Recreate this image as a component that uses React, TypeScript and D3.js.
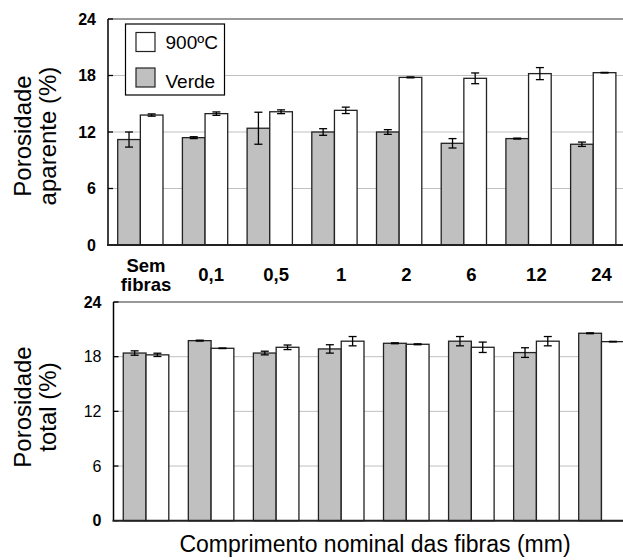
import React from "react";
import * as d3 from "d3";

const categories = ["Sem fibras", "0,1", "0,5", "1", "2", "6", "12", "24"];
const series = ["Verde", "900ºC"];
const yTicks = [0, 6, 12, 18, 24];

// porosidade aparente (%)
const aparenteVerde = [11.2, 11.4, 12.4, 12.0, 12.0, 10.8, 11.3, 10.7];
const aparenteVerdeErr = [0.8, 0.1, 1.7, 0.35, 0.25, 0.5, 0.05, 0.23];
const aparente900 = [13.8, 13.95, 14.15, 14.3, 17.8, 17.7, 18.2, 18.3];
const aparente900Err = [0.12, 0.18, 0.2, 0.34, 0.05, 0.57, 0.64, 0.03];

// porosidade total (%)
const totalVerde = [18.4, 19.76, 18.4, 18.85, 19.47, 19.7, 18.45, 20.57];
const totalVerdeErr = [0.24, 0.05, 0.2, 0.46, 0.05, 0.51, 0.53, 0.05];
const total900 = [18.2, 18.92, 19.03, 19.7, 19.36, 19.03, 19.7, 19.65];
const total900Err = [0.18, 0.03, 0.25, 0.51, 0.05, 0.57, 0.51, 0.03];

const W = 623;
const H = 560;
const FONT = "Arial, 'Liberation Sans', sans-serif";
const fills: Record<string, string> = { Verde: "#c0c0c0", "900ºC": "#ffffff" };

type PanelProps = {
  left: number;
  right: number;
  top: number;
  bottom: number;
  verde: number[];
  verdeErr: number[];
  queimado: number[];
  queimadoErr: number[];
  title: string[];
  titleY: number;
  boldTicks: boolean;
};

const Panel = (p: PanelProps) => {
  const x = d3.scaleBand(categories, [p.left, p.right]).paddingInner(0.3).paddingOuter(0.15);
  const xs = d3.scaleBand(series, [0, x.bandwidth()]);
  const y = d3.scaleLinear([0, 24], [p.bottom, p.top]);
  const axisX = p.left;

  const rows = categories.flatMap((c, i) => [
    { c, s: "Verde", v: p.verde[i], e: p.verdeErr[i] },
    { c, s: "900ºC", v: p.queimado[i], e: p.queimadoErr[i] },
  ]);

  return (
    <g>
      {yTicks.filter((t) => t > 0 && t < 24).map((t) => (
        <line key={"g" + t} x1={axisX} x2={W} y1={y(t)} y2={y(t)} stroke="#c0c0c0" strokeWidth={1} />
      ))}
      <line x1={axisX} x2={W} y1={y(24)} y2={y(24)} stroke="#999" strokeWidth={2} />
      {rows.map((r, k) => {
        const bx = (x(r.c) as number) + (xs(r.s) as number);
        const cx = bx + xs.bandwidth() / 2;
        return (
          <g key={k}>
            <rect x={bx} y={y(r.v)} width={xs.bandwidth()} height={y(0) - y(r.v)}
              fill={fills[r.s]} stroke="#222" strokeWidth={1.3} />
            <line x1={cx} x2={cx} y1={y(r.v - r.e)} y2={y(r.v + r.e)} stroke="#000" strokeWidth={1.3} />
            <line x1={cx - 4} x2={cx + 4} y1={y(r.v - r.e)} y2={y(r.v - r.e)} stroke="#000" strokeWidth={1.3} />
            <line x1={cx - 4} x2={cx + 4} y1={y(r.v + r.e)} y2={y(r.v + r.e)} stroke="#000" strokeWidth={1.3} />
          </g>
        );
      })}
      {yTicks.map((t) => (
        <g key={"t" + t}>
          <line x1={axisX} x2={axisX + 5} y1={y(t)} y2={y(t)} stroke="#000" strokeWidth={1.3} />
          <text x={axisX - 12} y={y(t)} dy="0.35em" textAnchor="end" fontSize={16}
            fontWeight={p.boldTicks || t === 0 || t === 24 ? "bold" : "normal"} fontFamily={FONT}>{t}</text>
        </g>
      ))}
      <line x1={axisX} x2={axisX} y1={y(24)} y2={y(0)} stroke="#000" strokeWidth={1.5} />
      <line x1={axisX - 1} x2={W} y1={y(0)} y2={y(0)} stroke="#222" strokeWidth={2} />
      {p.title.map((line, i) => (
        <text key={line} transform={`translate(${31 + i * 25},${p.titleY}) rotate(-90)`}
          textAnchor="middle" fontSize={24} fontFamily={FONT}>{line}</text>
      ))}
    </g>
  );
};

const App = () => {
  const xBottom = d3.scaleBand(categories, [113.5, 634]).paddingInner(0.3).paddingOuter(0.15);

  return (
    <svg width={W} height={H} style={{ position: "absolute", left: 0, top: 0, background: "#fff" }}>
      <Panel left={108} right={625.6} top={19} bottom={245}
        verde={aparenteVerde} verdeErr={aparenteVerdeErr}
        queimado={aparente900} queimadoErr={aparente900Err}
        title={["Porosidade", "aparente (%)"]} titleY={136} boldTicks={true} />
      <Panel left={113.5} right={634} top={302} bottom={520.7}
        verde={totalVerde} verdeErr={totalVerdeErr}
        queimado={total900} queimadoErr={total900Err}
        title={["Porosidade", "total (%)"]} titleY={407} boldTicks={false} />

      {/* category labels, between the panels */}
      {categories.map((c) => {
        const cx = (xBottom(c) as number) + xBottom.bandwidth() / 2;
        const parts = c.split(" ");
        return (
          <text key={c} x={cx} y={parts.length > 1 ? 272 : 281} textAnchor="middle"
            fontSize={18.5} fontWeight="bold" fontFamily={FONT}>
            {parts.map((s, i) => (
              <tspan key={s} x={cx} dy={i === 0 ? 0 : 19}>{s}</tspan>
            ))}
          </text>
        );
      })}

      {/* legend */}
      <g fontFamily={FONT} fontSize={19}>
        <rect x={125.5} y={24} width={99} height={71} fill="#fff" stroke="#000" strokeWidth={1.2} />
        <rect x={136} y={32.5} width={19} height={19} fill={fills["900ºC"]} stroke="#222" strokeWidth={1.2} />
        <text x={165.5} y={48.5}>900ºC</text>
        <rect x={136} y={68} width={19} height={19} fill={fills["Verde"]} stroke="#222" strokeWidth={1.2} />
        <text x={165.5} y={87.5}>Verde</text>
      </g>

      <text x={375} y={552} textAnchor="middle" fontSize={23} fontFamily={FONT}>
        Comprimento nominal das fibras (mm)
      </text>
    </svg>
  );
};

export default App;
